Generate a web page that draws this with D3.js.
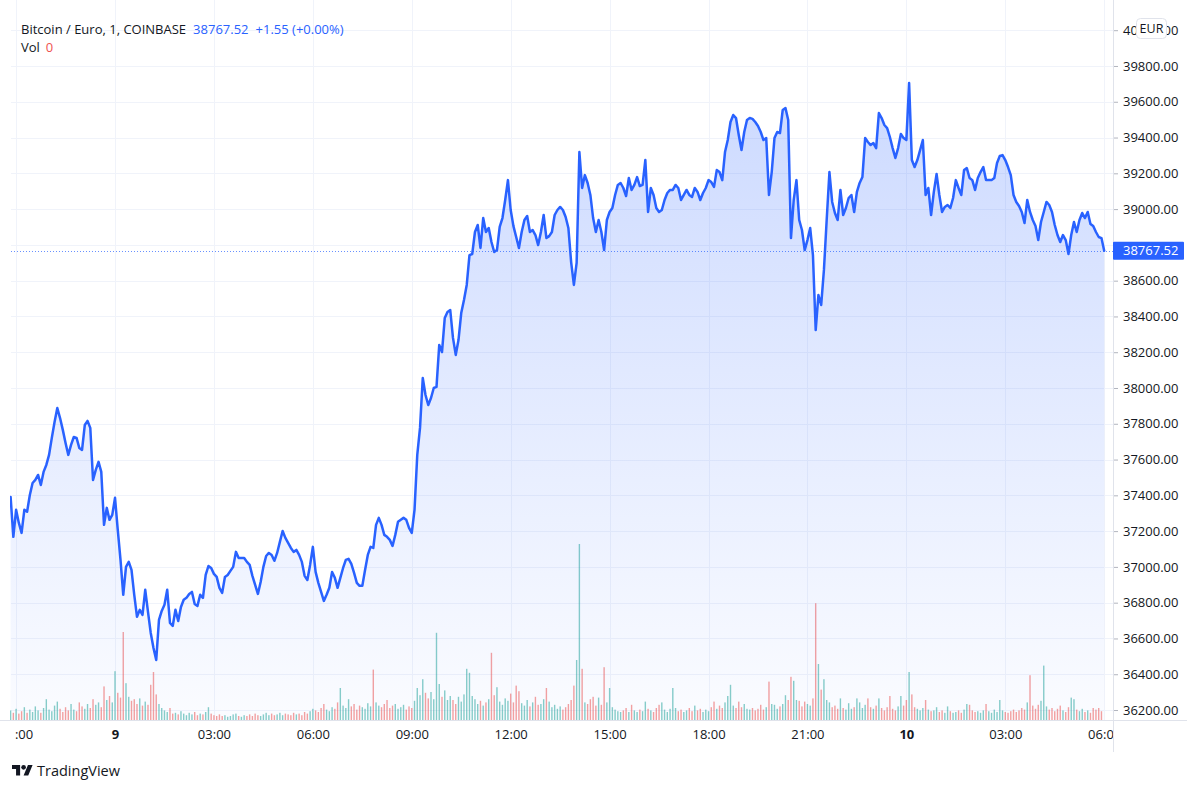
<!DOCTYPE html>
<html><head><meta charset="utf-8">
<script src="https://cdn.jsdelivr.net/npm/d3@7"></script>
<style>
html,body{margin:0;padding:0;background:#fff;}
svg{display:block;font-family:"Trebuchet MS","Open Sans",Roboto,sans-serif;}
</style></head><body>
<svg id="chart" width="1200" height="790"></svg>
<script>
// ---------- data ----------
const symbolTitle = "Bitcoin / Euro, 1, COINBASE";
const lastPriceText = "38767.52";
const changeText = "+1.55 (+0.00%)";
const volText = "0";
const currency = "EUR";
const startTime = new Date(2022, 0, 8, 20, 50);   // first 5-minute sample
const stepMinutes = 5;

const prices = [
37391,37168,37319,37246,37190,37319,37308,37402,37469,37486,
37514,37458,37531,37570,37626,37721,37810,37888,37832,37766,
37693,37626,37682,37726,37721,37665,37654,37793,37816,37777,
37486,37542,37587,37531,37235,37330,37263,37291,37386,37207,
37039,36844,37000,37028,36983,36844,36721,36760,36732,36872,
36749,36631,36547,36480,36704,36754,36788,36872,36687,36670,
36760,36698,36776,36816,36827,36849,36860,36793,36782,36844,
36827,36955,37005,36994,36961,36944,36883,36855,36944,36955,
36978,37000,37084,37050,37050,37050,37028,37011,36950,36899,
36849,36916,37000,37061,37078,37067,37034,37078,37140,37201,
37162,37134,37106,37084,37095,37067,37028,36950,36927,37011,
37112,36972,36911,36860,36810,36844,36883,36972,36939,36883,
36939,36994,37039,37045,37017,36967,36911,36894,36894,36983,
37067,37112,37106,37235,37274,37235,37179,37168,37151,37117,
37179,37252,37263,37274,37263,37218,37190,37319,37626,37777,
38056,37961,37905,37944,38000,38006,38241,38201,38391,38425,
38436,38280,38185,38268,38419,38492,38576,38743,38749,38872,
38911,38783,38950,38872,38894,38816,38760,38771,38900,38950,
39051,39162,38995,38905,38844,38783,38872,38939,38961,38872,
38883,38855,38799,38872,38967,38838,38849,38872,38967,38995,
39012,38995,38956,38894,38704,38576,38699,39319,39118,39190,
39146,39079,38950,38872,38939,38872,38771,38939,38984,39006,
39079,39135,39146,39118,39073,39174,39107,39135,39179,39129,
39135,39274,38984,39118,39079,39006,38984,38995,39051,39090,
39107,39107,39135,39118,39051,39079,39107,39079,39068,39118,
39096,39051,39090,39118,39162,39151,39124,39218,39207,39162,
39319,39386,39487,39526,39509,39414,39330,39431,39498,39509,
39504,39487,39465,39431,39386,39397,39079,39207,39397,39431,
39425,39554,39565,39498,38838,39051,39162,38939,38883,38771,
38827,38894,38743,38324,38520,38464,38660,38939,39207,39040,
38978,38939,39107,38967,39006,39062,39079,38984,39096,39146,
39179,39397,39375,39358,39369,39341,39537,39509,39470,39453,
39403,39341,39286,39341,39420,39397,39386,39705,39274,39235,
39274,39330,39386,39079,39118,38967,39096,39196,39079,38984,
39012,39023,39006,39062,39162,39118,39079,39218,39229,39174,
39162,39107,39174,39207,39235,39162,39162,39162,39174,39258,
39297,39302,39274,39235,39190,39079,39040,39017,38984,38922,
39051,38984,38939,38905,38827,38928,38984,39040,39023,38984,
38911,38855,38816,38855,38827,38749,38855,38928,38872,38939,
38978,38950,38984,38917,38905,38872,38844,38838,38767.52
];

const volumes = [
1.2,0.9,1.4,0.8,1.1,1.6,0.9,1.3,1.0,1.7,
1.2,0.9,1.5,2.6,1.3,1.1,1.8,2.3,1.4,1.0,
1.6,1.2,2.0,1.3,1.1,2.2,1.7,1.4,2.0,1.5,
2.6,1.9,2.2,1.6,4.2,2.5,3.0,2.2,6.1,3.4,
2.8,11.0,4.6,2.9,2.4,2.6,2.0,2.7,1.8,2.3,
1.9,4.4,6.0,3.2,2.0,1.5,1.2,1.0,1.5,0.8,
0.9,0.7,1.1,0.8,0.6,0.9,0.7,1.0,0.6,0.8,
0.7,1.0,1.6,0.8,0.6,0.5,0.7,0.5,0.6,0.4,
0.5,0.7,0.8,0.5,0.4,0.6,0.5,0.7,0.5,0.8,
0.6,0.5,0.7,0.9,0.6,0.8,0.6,0.7,0.9,0.6,
0.8,0.7,0.6,0.9,0.7,0.8,0.6,1.0,0.8,1.1,
1.4,1.2,1.0,1.5,2.0,1.3,1.1,1.6,1.4,2.2,
4.0,1.8,1.5,2.6,1.7,2.0,1.3,1.8,1.6,1.4,
2.1,1.7,6.3,2.2,1.8,1.6,2.0,2.5,1.5,1.8,
2.0,1.4,1.6,1.9,1.3,1.7,1.5,2.4,4.0,3.1,
5.1,3.4,2.7,3.5,2.6,10.9,4.5,2.9,3.7,2.5,
3.0,2.5,2.0,2.9,2.3,3.2,6.4,5.9,3.0,2.6,
2.0,2.4,1.8,2.2,2.6,8.4,3.1,4.1,2.3,1.9,
2.7,2.4,3.3,2.2,4.3,3.6,2.1,1.8,2.5,1.7,
2.2,2.9,1.9,2.0,2.6,4.0,2.3,1.6,1.9,1.4,
1.7,1.3,1.6,2.0,2.5,4.3,7.5,22.0,6.4,2.2,
2.0,2.6,2.9,1.8,2.8,1.9,6.6,2.2,4.0,1.6,
1.3,1.1,1.0,1.2,1.5,1.0,1.9,1.2,1.0,1.3,
1.1,2.3,1.4,1.2,1.0,1.5,1.9,2.2,1.3,1.0,
1.4,4.0,1.5,1.1,1.3,1.0,1.2,1.5,1.1,1.8,
1.2,1.4,1.0,1.3,1.1,1.6,2.3,1.4,1.8,1.5,
2.2,3.0,4.4,1.8,1.5,2.3,1.6,2.0,1.4,1.3,
1.5,1.2,1.4,1.9,1.3,1.6,4.8,2.0,1.9,1.4,
1.7,2.0,3.1,2.5,5.4,4.9,2.5,2.4,1.7,2.3,
2.0,1.8,2.7,14.6,7.0,3.8,5.1,2.5,2.2,1.6,
1.8,1.4,2.7,1.5,1.3,2.1,1.4,1.6,2.7,2.2,
1.5,1.9,2.7,1.6,1.4,1.8,2.7,1.5,1.2,1.6,
3.0,1.4,1.2,1.7,3.0,1.8,2.5,6.0,3.2,1.6,
1.4,1.2,1.5,2.5,1.3,1.1,1.2,1.6,1.0,1.2,
0.9,1.7,1.1,0.9,1.0,1.2,0.9,1.3,2.0,1.9,
1.2,1.0,1.1,0.9,1.2,2.0,1.1,0.9,1.3,1.0,
2.5,1.2,1.0,0.9,1.1,1.3,1.0,1.2,1.5,1.3,
2.2,5.6,1.8,1.4,1.9,2.4,6.8,1.7,1.3,1.5,
1.1,1.4,1.8,1.2,1.0,1.6,2.8,2.6,1.3,1.1,
1.4,1.0,1.2,0.9,1.5,1.3,1.5,1.1,0
];

const priceTicks = [36200,36400,36600,36800,37000,37200,37400,37600,37800,38000,
                    38200,38400,38600,38800,39000,39200,39400,39600,39800,40000];
const timeTicks = ["2022-01-08T21:00","2022-01-09T00:00","2022-01-09T03:00","2022-01-09T06:00",
                   "2022-01-09T09:00","2022-01-09T12:00","2022-01-09T15:00","2022-01-09T18:00",
                   "2022-01-09T21:00","2022-01-10T00:00","2022-01-10T03:00","2022-01-10T06:00"];
const timeTickLabels = ["21:00","9","03:00","06:00","09:00","12:00","15:00","18:00","21:00","10","03:00","06:00"];

// ---------- layout ----------
const W = 1200, H = 790;
const plotL = 11, plotR = 1113, plotT = 0, plotB = 720;
const axisBottom = 752;
const textColor = "#131722";
const gridColor = "#f0f3fa";
const borderColor = "#e0e3eb";
const blue = "#2962FF";

const data = prices.map((p, i) => ({
  t: new Date(startTime.getTime() + i * stepMinutes * 60000),
  p: p,
  v: volumes[i],
  up: i === 0 ? true : p >= prices[i - 1]
}));
const endTime = data[data.length - 1].t;

const x = d3.scaleTime().domain([startTime, endTime]).range([10.6, 1104.2]);
const y = d3.scaleLinear().domain([36144.2, 40168.8]).range([plotB, plotT]);
const yVol = d3.scaleLinear().domain([0, 22]).range([plotB, plotB - 176]);

const svg = d3.select("#chart");
svg.append("rect").attr("width", W).attr("height", H).attr("fill", "#fff");

const defs = svg.append("defs");
defs.append("clipPath").attr("id", "plotClip").append("rect")
  .attr("x", plotL - 1).attr("y", plotT).attr("width", plotR - plotL + 1).attr("height", plotB - plotT);
defs.append("clipPath").attr("id", "xLabClip").append("rect")
  .attr("x", 13.5).attr("y", 0).attr("width", plotR - 13.5).attr("height", 40);
const grad = defs.append("linearGradient").attr("id", "areaGrad")
  .attr("gradientUnits", "userSpaceOnUse").attr("x1", 0).attr("x2", 0).attr("y1", 80).attr("y2", plotB);
grad.append("stop").attr("offset", 0).attr("stop-color", blue).attr("stop-opacity", 0.24);
grad.append("stop").attr("offset", 1).attr("stop-color", blue).attr("stop-opacity", 0.02);

const tickDates = timeTicks.map(s => new Date(s));

// grid
const grid = svg.append("g");
grid.selectAll("line.h").data(priceTicks).join("line")
  .attr("x1", plotL).attr("x2", plotR).attr("y1", d => Math.round(y(d)) + 0.5).attr("y2", d => Math.round(y(d)) + 0.5)
  .attr("stroke", gridColor).attr("stroke-width", 1);
grid.selectAll("line.v").data(tickDates).join("line")
  .attr("x1", d => Math.round(x(d)) + 0.5).attr("x2", d => Math.round(x(d)) + 0.5)
  .attr("y1", plotT).attr("y2", plotB)
  .attr("stroke", gridColor).attr("stroke-width", 1);

const plot = svg.append("g").attr("clip-path", "url(#plotClip)");

// volume bars
plot.append("g").selectAll("rect").data(data).join("rect")
  .attr("x", d => x(d.t) - 0.7).attr("width", 1.4)
  .attr("y", d => yVol(d.v)).attr("height", d => plotB - yVol(d.v))
  .attr("fill", d => d.up ? "rgba(38,166,154,0.55)" : "rgba(239,83,80,0.55)");

// area + line
const area = d3.area().x(d => x(d.t)).y0(plotB).y1(d => y(d.p));
const line = d3.line().x(d => x(d.t)).y(d => y(d.p));
plot.append("path").datum(data).attr("d", area).attr("fill", "url(#areaGrad)");
plot.append("path").datum(data).attr("d", line)
  .attr("fill", "none").attr("stroke", blue).attr("stroke-width", 2.5)
  .attr("stroke-linejoin", "round").attr("stroke-linecap", "round");

// last price dotted line
const lastP = prices[prices.length - 1];
svg.append("line").attr("x1", plotL).attr("x2", plotR)
  .attr("y1", Math.round(y(lastP)) + 0.5).attr("y2", Math.round(y(lastP)) + 0.5)
  .attr("stroke", blue).attr("stroke-opacity", 0.7).attr("stroke-width", 1).attr("stroke-dasharray", "1,2");

// right price axis (the label hidden behind the last-price tag is not drawn)
const ly = y(lastP);
const yAxisG = svg.append("g").attr("transform", `translate(${plotR},0)`)
  .call(d3.axisRight(y).tickValues(priceTicks).tickSize(5).tickSizeOuter(0).tickPadding(5)
    .tickFormat(d => Math.abs(y(d) - ly) < 14 ? "" : d.toFixed(2)));
yAxisG.select(".domain").remove();
yAxisG.selectAll(".tick line").attr("stroke", "#b2b5be");
yAxisG.selectAll(".tick text").attr("fill", textColor).attr("font-size", 13)
  .attr("font-family", "'Trebuchet MS','Open Sans',Roboto,sans-serif");

// bottom time axis
const xAxisG = svg.append("g").attr("transform", `translate(0,${plotB})`);
const xAxisInner = xAxisG.append("g").attr("clip-path", "url(#xLabClip)");
xAxisInner.call(d3.axisBottom(x).tickValues(tickDates).tickSize(0).tickSizeOuter(0).tickPadding(10)
  .tickFormat((d, i) => timeTickLabels[i]));
xAxisInner.select(".domain").remove();
xAxisInner.selectAll(".tick text").attr("fill", textColor).attr("font-size", 13)
  .attr("font-family", "'Trebuchet MS','Open Sans',Roboto,sans-serif")
  .attr("font-weight", (d, i) => (timeTickLabels[i].length <= 2 ? 700 : 400));

// borders
svg.append("line").attr("x1", 0).attr("x2", 1187).attr("y1", plotB + 0.5).attr("y2", plotB + 0.5)
  .attr("stroke", borderColor);
svg.append("line").attr("x1", plotR + 0.5).attr("x2", plotR + 0.5).attr("y1", 0).attr("y2", axisBottom)
  .attr("stroke", borderColor);

// last price label on axis
svg.append("rect").attr("x", plotR).attr("y", ly - 9).attr("width", 71).attr("height", 18)
  .attr("fill", blue).attr("rx", 1);
svg.append("text").attr("x", plotR + 10).attr("y", ly + 4.5).attr("fill", "#fff")
  .attr("font-size", 13).text(lastPriceText);

// currency badge
svg.append("rect").attr("x", 1136.5).attr("y", 18.5).attr("width", 30).attr("height", 20).attr("rx", 4)
  .attr("fill", "#fff").attr("stroke", "#e0e3eb");
svg.append("text").attr("x", 1151.5).attr("y", 33).attr("text-anchor", "middle")
  .attr("fill", textColor).attr("font-size", 12.5).text(currency);

// header legend
const hdr = svg.append("text").attr("x", 21).attr("y", 34).attr("font-size", 13);
hdr.append("tspan").attr("fill", textColor).text(symbolTitle);
hdr.append("tspan").attr("dx", 7).attr("fill", blue).text(lastPriceText);
hdr.append("tspan").attr("dx", 7).attr("fill", blue).text(changeText);
const vrow = svg.append("text").attr("x", 21).attr("y", 52).attr("font-size", 13);
vrow.append("tspan").attr("fill", textColor).text("Vol");
vrow.append("tspan").attr("dx", 6).attr("fill", "#ef5350").text(volText);

// TradingView logo
const logo = svg.append("g").attr("transform", "translate(12,762.7) scale(0.58)");
logo.append("path").attr("d", "M14 22H7V11H0V4h14v18zM28 22h-8l7.5-18h8L28 22z").attr("fill", textColor);
logo.append("circle").attr("cx", 20).attr("cy", 8).attr("r", 4).attr("fill", textColor);
svg.append("text").attr("x", 37).attr("y", 776).attr("font-size", 14.5).attr("fill", textColor)
  .text("TradingView");
</script>
</body></html>
